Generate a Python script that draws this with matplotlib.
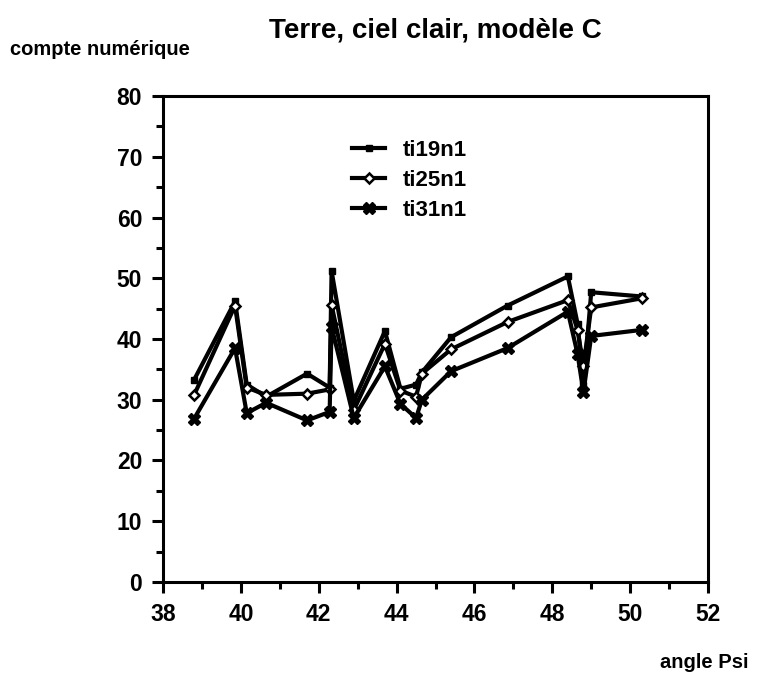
import matplotlib.pyplot as plt
from matplotlib.ticker import MultipleLocator

# angle Psi values (shared by the three series)
psi = [38.8, 39.85, 40.15, 40.65, 41.7, 42.28, 42.33, 42.9, 43.7, 44.1,
       44.5, 44.65, 45.4, 46.85, 48.4, 48.65, 48.8, 49.0, 50.3]

ti19n1 = [33.3, 46.2, 32.5, 30.5, 34.3, 32.0, 51.2, 29.8, 41.3, 31.8,
          32.5, 34.5, 40.3, 45.5, 50.3, 42.5, 32.5, 47.7, 47.0]
ti25n1 = [30.8, 45.5, 32.0, 30.8, 31.0, 31.7, 45.6, 28.3, 39.2, 31.5,
          30.5, 34.3, 38.3, 42.8, 46.4, 41.5, 35.5, 45.2, 46.7]
ti31n1 = [26.9, 38.5, 27.8, 29.5, 26.6, 28.0, 42.0, 27.0, 35.5, 29.3,
          27.0, 30.0, 34.7, 38.5, 44.5, 37.5, 31.2, 40.5, 41.5]

plt.rcParams["font.family"] = ["Liberation Sans", "DejaVu Sans"]
plt.rcParams["font.weight"] = "bold"

fig = plt.figure(figsize=(7.59, 6.81), dpi=100)
ax = fig.add_axes([0.2148, 0.1454, 0.718, 0.7136])

ax.plot(psi, ti19n1, color="black", lw=3.0, marker="s", ms=5,
        mfc="black", mec="black", label="ti19n1")
ax.plot(psi, ti25n1, color="black", lw=3.0, marker="D", ms=5.5,
        mfc="white", mec="black", mew=1.8, label="ti25n1")
ax.plot(psi, ti31n1, color="black", lw=3.0, marker="X", ms=8,
        mfc="black", mec="black", label="ti31n1")

ax.set_xlim(38, 52)
ax.set_ylim(0, 80)
ax.xaxis.set_major_locator(MultipleLocator(2))
ax.xaxis.set_minor_locator(MultipleLocator(1))
ax.yaxis.set_major_locator(MultipleLocator(10))
ax.yaxis.set_minor_locator(MultipleLocator(5))
ax.tick_params(which="major", direction="out", length=8, width=2.2,
               labelsize=16.5, pad=7)
ax.tick_params(which="minor", direction="out", length=5, width=2.2)
for lab in ax.get_xticklabels() + ax.get_yticklabels():
    lab.set_fontweight("bold")
for s in ax.spines.values():
    s.set_linewidth(2.2)

leg = ax.legend(loc="upper left", bbox_to_anchor=(0.347, 0.909),
                frameon=False, borderpad=0, borderaxespad=0, numpoints=1,
                fontsize=16, handlelength=1.5, labelspacing=0.4,
                handletextpad=0.8)

fig.text(0.573, 0.955, "Terre, ciel clair, modèle C", ha="center",
         va="center", fontsize=20, fontweight="bold")
fig.text(0.013, 0.928, "compte numérique", ha="left", va="center",
         fontsize=14.5, fontweight="bold")
fig.text(0.986, 0.027, "angle Psi", ha="right", va="center",
         fontsize=14.5, fontweight="bold")

fig.savefig("out.png", dpi=100)
